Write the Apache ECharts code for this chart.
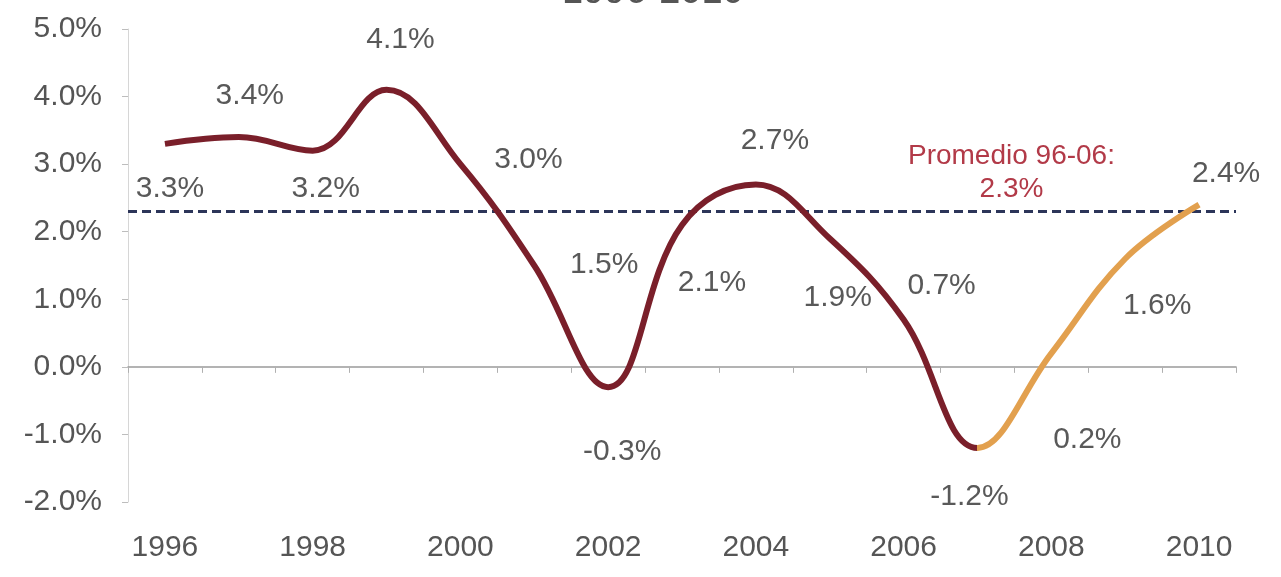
<!DOCTYPE html>
<html>
<head>
<meta charset="utf-8">
<script src="https://cdn.jsdelivr.net/npm/echarts@6/dist/echarts.min.js"></script>
<style>
html,body{margin:0;padding:0;background:#fff;}
#chart{width:1281px;height:577px;}
</style>
</head>
<body>
<div id="chart"></div>
<script>
// ---- data ----
const years = ['1996','1997','1998','1999','2000','2001','2002','2003','2004','2005','2006','2007','2008','2009','2010'];
const growth = [3.3, 3.4, 3.2, 4.1, 3.0, 1.5, -0.3, 2.1, 2.7, 1.9, 0.7, -1.2, 0.2, 1.6, 2.4];
const forecastStartIndex = 11; // 2007: orange part of the line starts here
const averageValue = 2.3;
const averageText = ['Promedio 96-06:', '2.3%'];
const titleText = '1996-2010';

// ---- styling (label placement offsets, pixels) ----
const labelOffsets = [[5,45],[11,-41],[13,38],[14,-50],[68,-4],[70,-1],[14,65],[30,58],[19,-44],[8,59],[38,-34],[-8,49],[36,86],[32,47],[27,-31]];
const FONT = 'Liberation Sans, Arial, sans-serif';
const RED = '#7a1f2a', ORANGE = '#e2a04e';
const W = 1281;
const pct = v => Number(v).toFixed(1) + '%';

const lineData = growth.map((v, i) => ({
  value: v,
  label: {position: labelOffsets[i]}
}));

const chart = echarts.init(document.getElementById('chart'), null, {renderer: 'canvas'});
chart.setOption({
  backgroundColor: '#ffffff',
  animation: false,
  title: {
    text: titleText,
    left: 557,
    top: -31,
    textStyle: {fontSize: 38, color: '#555', fontWeight: 'normal', fontFamily: FONT}
  },
  grid: {left: 128, right: 45, top: 29, bottom: 75},
  xAxis: [
    {
      type: 'category',
      data: years,
      boundaryGap: true,
      axisLine: {onZero: true, lineStyle: {color: '#9a9a9a', width: 1.5}},
      axisTick: {show: true, interval: 0, length: 6, lineStyle: {color: '#b0b0b0'}},
      axisLabel: {show: false},
      splitLine: {show: false}
    },
    {
      type: 'category',
      data: years,
      position: 'bottom',
      boundaryGap: true,
      axisLine: {show: false, onZero: false},
      axisTick: {show: false},
      axisLabel: {interval: 1, margin: 31, fontSize: 30, color: '#555', fontFamily: FONT},
      splitLine: {show: false}
    }
  ],
  yAxis: {
    type: 'value',
    min: -2,
    max: 5,
    interval: 1,
    axisLine: {show: true, lineStyle: {color: '#d6d6d6', width: 1}},
    axisTick: {show: true, length: 6, lineStyle: {color: '#bdbdbd'}},
    axisLabel: {formatter: v => pct(v), margin: 26, fontSize: 30, color: '#555', fontFamily: FONT},
    splitLine: {show: false}
  },
  series: [
    {
      type: 'line',
      xAxisIndex: 0,
      data: lineData,
      smooth: 0.4,
      symbol: 'circle',
      symbolSize: 0,
      showSymbol: true,
      showAllSymbol: true,
      lineStyle: {width: 6, color: RED},
      itemStyle: {color: RED},
      label: {
        show: true,
        align: 'center',
        verticalAlign: 'middle',
        formatter: p => pct(p.value),
        fontSize: 30,
        fontFamily: FONT,
        color: '#595959'
      },
      labelLayout: {hideOverlap: false},
      z: 3,
      markLine: {
        silent: true,
        symbol: ['none', 'none'],
        label: {show: false},
        lineStyle: {type: [9, 5], color: '#2c3559', width: 3},
        data: [{yAxis: averageValue}],
        z: 2
      },
      markPoint: {
        silent: true,
        symbol: 'circle',
        symbolSize: 0,
        data: [{coord: [years[forecastStartIndex], averageValue]}],
        label: {
          show: true,
          position: [34, -39],
          verticalAlign: 'middle',
          formatter: averageText.join('\n'),
          fontSize: 28,
          lineHeight: 33,
          align: 'center',
          color: '#b23a48',
          fontFamily: FONT
        }
      }
    }
  ]
});

// colour switch at 2007 (red before, orange after), placed via the axis scale
const splitX = chart.convertToPixel({xAxisIndex: 0}, years[forecastStartIndex]);
const off = Math.min(Math.max(splitX / W, 0), 1);
chart.setOption({
  series: [{
    lineStyle: {
      color: new echarts.graphic.LinearGradient(0, 0, W, 0, [
        {offset: 0, color: RED},
        {offset: off, color: RED},
        {offset: off, color: ORANGE},
        {offset: 1, color: ORANGE}
      ], true)
    }
  }]
});
</script>
</body>
</html>
